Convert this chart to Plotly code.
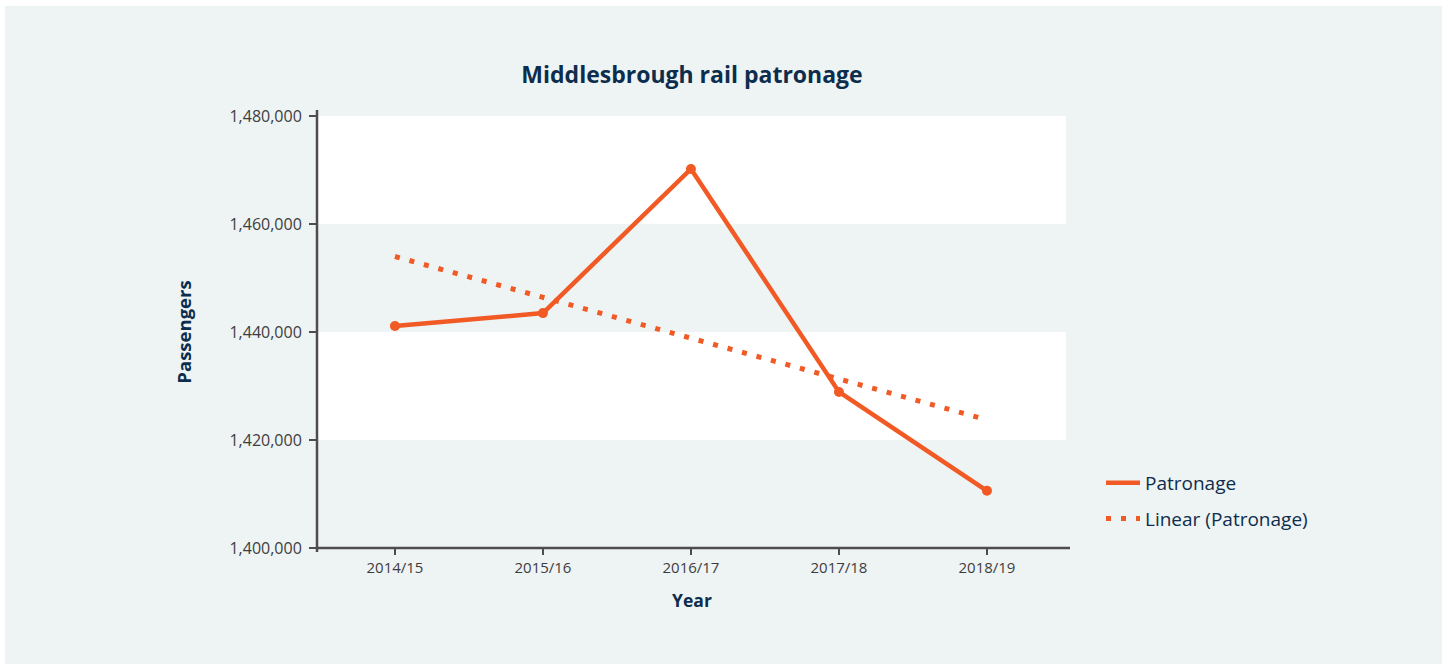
import numpy as np
import plotly.graph_objects as go

# Annual rail patronage at Middlesbrough station
years = ["2014/15", "2015/16", "2016/17", "2017/18", "2018/19"]
patronage = [1441100, 1443500, 1470200, 1428900, 1410600]

y_ticks = [1400000, 1420000, 1440000, 1460000, 1480000]
y_tick_text = ["1,400,000", "1,420,000", "1,440,000", "1,460,000", "1,480,000"]

# Least-squares linear trend through the patronage series
idx = np.arange(len(years))
slope, intercept = np.polyfit(idx, patronage, 1)
trend = list(slope * idx + intercept)

ORANGE = "#f15a24"
NAVY = "#0d2d4d"
AXIS = "#4d4d4f"
CARD = "#eef3f3"
TICK = "#3d3d3f"
FONT = "Open Sans"

fig = go.Figure()

# Patronage line (legend shows the plain line)
fig.add_trace(go.Scatter(
    x=years, y=patronage, name="Patronage", legendgroup="a",
    mode="lines",
    line=dict(color=ORANGE, width=4.5),
))
# Year markers on the patronage line
fig.add_trace(go.Scatter(
    x=years, y=patronage, name="Patronage", legendgroup="a",
    mode="markers", showlegend=False,
    marker=dict(color=ORANGE, size=10),
))
# Dotted linear trend
fig.add_trace(go.Scatter(
    x=years, y=trend, name="Linear (Patronage)", legendgroup="b",
    mode="lines",
    line=dict(color=ORANGE, width=5, dash="5px,10px"),
))

# Plot-area geometry (pixels) used to place the card and bands
W, H = 1450, 665
L, R, T, B = 318, 384, 116, 117
pw, ph = W - L - R, H - T - B

def px_x(p):
    return (p - L) / pw

def px_y(p):
    return (H - B - p) / ph

shapes = [
    # light card behind the whole chart
    dict(type="rect", xref="paper", yref="paper", layer="below",
         x0=px_x(5), x1=px_x(1442), y0=px_y(664), y1=px_y(6),
         fillcolor=CARD, line=dict(width=0)),
]
# alternating white bands between gridlines
for lo, hi in [(1460000, 1480000), (1420000, 1440000)]:
    shapes.append(dict(type="rect", xref="paper", yref="y", layer="below",
                       x0=0, x1=1, y0=lo, y1=hi,
                       fillcolor="white", line=dict(width=0)))
# axis lines
shapes.append(dict(type="line", xref="paper", yref="paper", layer="above",
                   x0=px_x(317), x1=px_x(317), y0=px_y(552), y1=px_y(110),
                   line=dict(color=AXIS, width=2.5)))
shapes.append(dict(type="line", xref="paper", yref="paper", layer="above",
                   x0=px_x(316), x1=px_x(1070), y0=px_y(548), y1=px_y(548),
                   line=dict(color=AXIS, width=2.5)))

fig.update_layout(
    width=W, height=H,
    margin=dict(l=L, r=R, t=T, b=B),
    paper_bgcolor="white",
    plot_bgcolor="rgba(0,0,0,0)",
    shapes=shapes,
    font=dict(family=FONT, color=TICK),
    title=dict(text="<b>Middlesbrough rail patronage</b>",
               x=692 / W, xanchor="center",
               y=1 - 75 / H, yanchor="middle",
               font=dict(family=FONT, size=23, color=NAVY)),
    xaxis=dict(
        range=[-0.52, 4.534],
        showgrid=False, zeroline=False, showline=False,
        ticks="outside", ticklen=6, tickwidth=2, tickcolor=AXIS,
        tickfont=dict(size=15, color=TICK),
        title=dict(text="<b>Year</b>", standoff=18,
                   font=dict(size=17.5, color=NAVY)),
    ),
    yaxis=dict(
        range=[1400000, 1480000],
        tickvals=y_ticks, ticktext=y_tick_text,
        showgrid=False, zeroline=False, showline=False,
        ticks="outside", ticklen=8, tickwidth=2, tickcolor=AXIS,
        ticklabelstandoff=4,
        tickfont=dict(size=16, color=TICK),
        title=dict(text="<b>Passengers</b>", standoff=32,
                   font=dict(size=18.5, color=NAVY)),
    ),
    legend=dict(
        x=px_x(1101), xanchor="left",
        y=px_y(464), yanchor="top",
        bgcolor="rgba(0,0,0,0)",
        font=dict(size=19, color=NAVY),
        itemwidth=34,
        tracegroupgap=8,
    ),
    showlegend=True,
)

fig.write_html("out.html")
